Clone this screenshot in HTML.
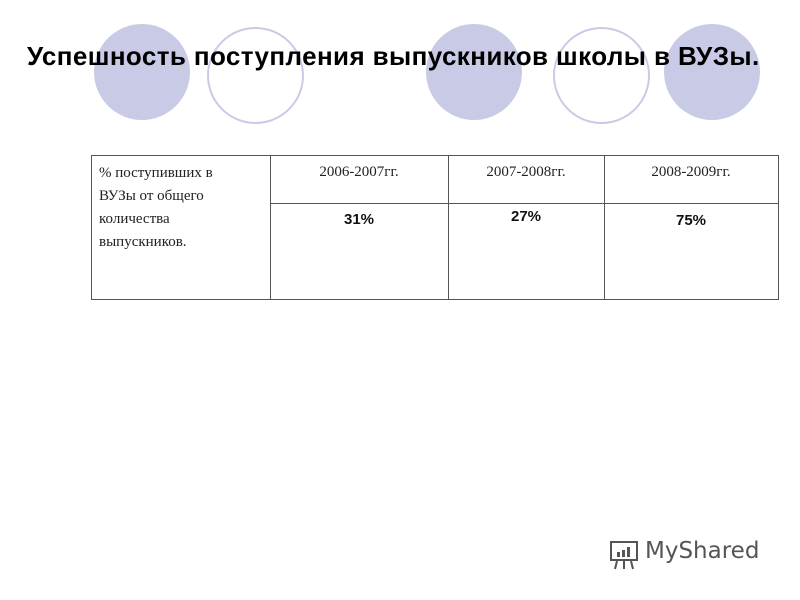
<!DOCTYPE html>
<html><head><meta charset="utf-8"><style>
body{margin:0;width:800px;height:600px;background:#fff;position:relative;overflow:hidden;font-family:"Liberation Sans",sans-serif}
.c{position:absolute;border-radius:50%}
.f{background:#c9cbe6}
.o{border:2px solid #c9cbe6;background:#fff;box-sizing:border-box}
#title{position:absolute;left:27px;top:41px;font-weight:bold;font-size:26px;color:#000;white-space:nowrap;letter-spacing:0.4px}
.l{position:absolute;background:#555}
.t{position:absolute;font-family:"Liberation Serif",serif;font-size:15px;color:#222}
.b{position:absolute;font-weight:bold;font-size:15px;color:#111}
</style></head><body>
<div class="c f" style="left:94px;top:24px;width:96px;height:96px"></div>
<div class="c o" style="left:207px;top:27px;width:97px;height:97px"></div>
<div class="c f" style="left:426px;top:24px;width:96px;height:96px"></div>
<div class="c o" style="left:553px;top:27px;width:97px;height:97px"></div>
<div class="c f" style="left:664px;top:24px;width:96px;height:96px"></div>
<div id="title">Успешность поступления выпускников школы в ВУЗы.</div>
<div>
<div class="l" style="left:91px;top:155px;width:688px;height:1px"></div>
<div class="l" style="left:91px;top:299px;width:688px;height:1px"></div>
<div class="l" style="left:270px;top:203px;width:509px;height:1px"></div>
<div class="l" style="left:91px;top:155px;width:1px;height:145px"></div>
<div class="l" style="left:270px;top:155px;width:1px;height:145px"></div>
<div class="l" style="left:448px;top:155px;width:1px;height:145px"></div>
<div class="l" style="left:604px;top:155px;width:1px;height:145px"></div>
<div class="l" style="left:778px;top:155px;width:1px;height:145px"></div>
<div class="t" style="left:99px;top:162px;width:145px;line-height:23px">% поступивших в ВУЗы от общего количества выпускников.</div>
<div class="t" style="left:270px;top:164px;width:178px;text-align:center">2006-2007гг.</div>
<div class="t" style="left:448px;top:164px;width:156px;text-align:center">2007-2008гг.</div>
<div class="t" style="left:604px;top:164px;width:174px;text-align:center">2008-2009гг.</div>
<div class="b" style="left:270px;top:211px;width:178px;text-align:center">31%</div>
<div class="b" style="left:448px;top:208px;width:156px;text-align:center">27%</div>
<div class="b" style="left:604px;top:212px;width:174px;text-align:center">75%</div>
</div>
<div style="position:absolute;left:607px;top:538px;width:160px;height:32px">
<svg width="36" height="34" style="position:absolute;left:0;top:0"><rect x="4" y="4" width="26" height="18" fill="none" stroke="#555" stroke-width="2"/><rect x="10" y="14" width="3" height="5" fill="#555"/><rect x="15" y="12" width="3" height="7" fill="#555"/><rect x="20" y="9" width="3" height="10" fill="#555"/><path d="M10 23 L8 31 M17 23 V31 M24 23 L26 31" stroke="#555" stroke-width="2"/></svg>
<span style="position:absolute;left:38px;top:0;font-family:'DejaVu Sans',sans-serif;font-size:23px;color:#555">MyShared</span>
</div>
</body></html>
